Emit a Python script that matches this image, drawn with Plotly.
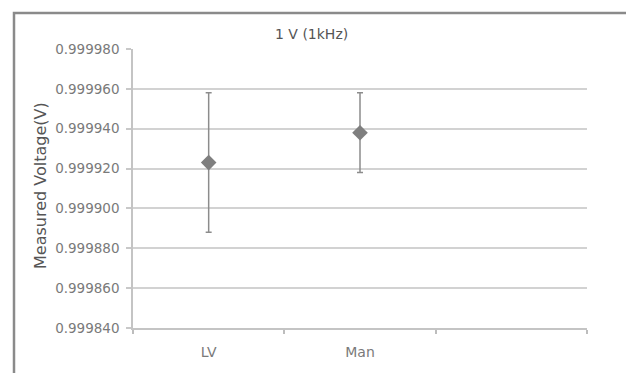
import plotly.graph_objects as go

# Measured voltage at 1 V (1 kHz) for each method, with uncertainty
categories = ["LV", "Man"]
mean_voltage = [0.999923, 0.999938]
uncertainty = [0.000035, 0.000020]
axis_slots = ["LV", "Man", " "]
y_ticks = [0.999840, 0.999860, 0.999880, 0.999900, 0.999920, 0.999940, 0.999960, 0.999980]

W, H = 626, 373
L, R, T, B = 133, 39, 49, 45
grey_text = "#7a7a7a"
font = "DejaVu Sans"

fig = go.Figure()
fig.add_trace(go.Scatter(
    x=categories,
    y=mean_voltage,
    mode="markers",
    marker=dict(symbol="diamond", size=12, color="#7f7f7f"),
    error_y=dict(type="data", array=uncertainty, visible=True,
                 color="#8c8c8c", thickness=1.5, width=3),
    showlegend=False,
))

fig.update_layout(
    width=W, height=H,
    margin=dict(l=L, r=R, t=T, b=B),
    paper_bgcolor="white",
    plot_bgcolor="white",
    font=dict(family=font, color=grey_text),
    xaxis=dict(
        type="category",
        categoryorder="array",
        categoryarray=axis_slots,
        range=[-0.5, 2.5],
        tickson="boundaries",
        ticks="outside", ticklen=4, tickcolor="#bdbdbd", tickwidth=1.5,
        showline=True, linecolor="#c4c4c4", linewidth=1.5,
        showgrid=False,
        tickfont=dict(size=14, color=grey_text, family=font),
        ticklabelstandoff=10,
        fixedrange=True,
    ),
    yaxis=dict(
        range=[y_ticks[0], y_ticks[-1]],
        tickvals=y_ticks,
        ticktext=[f"{v:.6f}" for v in y_ticks],
        ticks="outside", ticklen=5, tickcolor="#c8c8c8", tickwidth=1.5,
        showline=True, linecolor="#c4c4c4", linewidth=1.5,
        showgrid=True, gridcolor="#d2d2d2", gridwidth=1.5,
        zeroline=False,
        tickfont=dict(size=13.5, color=grey_text, family=font),
        ticklabelstandoff=4,
    ),
    annotations=[
        dict(text="1 V (1kHz)", xref="paper", yref="paper",
             x=(311 - L) / (W - L - R), y=1 + (T - 34) / (H - T - B),
             xanchor="center", yanchor="middle", showarrow=False,
             font=dict(size=14, color="#555555", family=font)),
        dict(text="Measured Voltage(V)", xref="paper", yref="paper",
             x=-(L - 40) / (W - L - R), y=0.5 - (186 - (T + (H - T - B) / 2)) / (H - T - B),
             xanchor="center", yanchor="middle", textangle=-90, showarrow=False,
             font=dict(size=16, color="#555555", family=font)),
    ],
    shapes=[
        # chart frame, running past the right and bottom edges of the page
        dict(type="rect", xref="paper", yref="paper",
             x0=-(L - 14) / (W - L - R), x1=1 + (R + 10) / (W - L - R),
             y0=-(B + 10) / (H - T - B), y1=1 + (T - 13) / (H - T - B),
             line=dict(color="#8a8a8a", width=2.5), fillcolor="rgba(0,0,0,0)",
             layer="below"),
    ],
)

fig.write_html("out.html")
